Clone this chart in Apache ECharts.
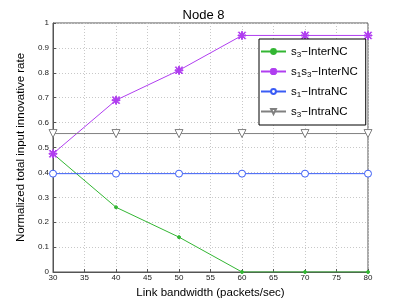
<!DOCTYPE html>
<html><head><meta charset="utf-8">
<script src="https://cdn.jsdelivr.net/npm/echarts@6/dist/echarts.min.js"></script>
<style>html,body{margin:0;padding:0;background:#fff}#c{width:407px;height:306px}</style>
</head><body><div id="c"></div>
<script>
const categories = [30, 40, 50, 60, 70, 80];
const s3Inter = [0.475, 0.26, 0.14, 0, 0, 0];
const s1s3Inter = [0.475, 0.69, 0.81, 0.95, 0.95, 0.95];
const s1Intra = [0.395, 0.395, 0.395, 0.395, 0.395, 0.395];
const s3Intra = [0.556, 0.556, 0.556, 0.556, 0.556, 0.556];
const xTicks = [30, 35, 40, 45, 50, 55, 60, 65, 70, 75, 80];
const yTicks = [0, 0.1, 0.2, 0.3, 0.4, 0.5, 0.6, 0.7, 0.8, 0.9, 1];
const names = ['s3-InterNC', 's1s3-InterNC', 's1-IntraNC', 's3-IntraNC'];
const legendText = {
  's3-InterNC': '{n|s}{s|3}{n|\u2212InterNC}',
  's1s3-InterNC': '{n|s}{s|1}{n|s}{s|3}{n|\u2212InterNC}',
  's1-IntraNC': '{n|s}{s|1}{n|\u2212IntraNC}',
  's3-IntraNC': '{n|s}{s|3}{n|\u2212IntraNC}'
};
const asterisk = 'path://M0,4.4L10,4.4L10,5.6L0,5.6Z M4.4,0L5.6,0L5.6,10L4.4,10Z M1.2,0.4L9.6,8.8L8.8,9.6L0.4,1.2Z M8.8,0.4L9.6,1.2L1.2,9.6L0.4,8.8Z';
const font = 'Liberation Sans, Arial, Helvetica, sans-serif';
const chart = echarts.init(document.getElementById('c'));
function mk(name, data, color, symbol, size, fill) {
  return {
    name, type: 'line', data: categories.map((x, i) => [x, data[i]]),
    symbol, symbolSize: size, showSymbol: true,
    lineStyle: {color, width: 1},
    itemStyle: {color: fill ? color : '#fff', borderColor: color, borderWidth: 1},
    emphasis: {disabled: true}, animation: false, z: 3
  };
}
chart.setOption({
  animation: false,
  title: {text: 'Node 8', left: 'center', top: 4, textStyle: {fontFamily: font, fontSize: 13, fontWeight: 'normal', color: '#000'}},
  grid: {left: 53, right: 39, top: 23, bottom: 34, show: true, borderColor: '#555', borderWidth: 1},
  legend: {
    orient: 'vertical', left: 259, top: 39, width: 106,
    backgroundColor: '#fff', borderColor: '#000', borderWidth: 1,
    padding: [5, 8, 6, 1], itemGap: 5, itemWidth: 25, itemHeight: 6,
    data: names,
    formatter: n => legendText[n],
    textStyle: {
      fontFamily: font, color: '#000',
      rich: {
        n: {fontFamily: font, fontSize: 11.5, color: '#000', lineHeight: 16, verticalAlign: 'middle'},
        s: {fontFamily: font, fontSize: 8, color: '#000', lineHeight: 16, padding: [7, 0, 0, 0], verticalAlign: 'middle'}
      }
    }
  },
  xAxis: {
    type: 'value', min: 30, max: 80, interval: 5,
    name: 'Link bandwidth (packets/sec)', nameLocation: 'middle', nameGap: 11,
    nameTextStyle: {fontFamily: font, fontSize: 11.5, color: '#000'},
    axisLine: {lineStyle: {color: '#555'}},
    axisTick: {inside: true, length: 3, lineStyle: {color: '#555'}},
    axisLabel: {fontFamily: font, fontSize: 8, color: '#222', margin: 2},
    splitLine: {show: true, lineStyle: {color: '#c8c8c8', type: [1, 2]}}
  },
  yAxis: {
    type: 'value', min: 0, max: 1, interval: 0.1,
    name: 'Normalized total input innovative rate', nameLocation: 'middle', nameGap: 15,
    nameTextStyle: {fontFamily: font, fontSize: 11.5, color: '#000'},
    axisLine: {show: true, lineStyle: {color: '#555'}},
    axisTick: {show: true, inside: true, length: 3, lineStyle: {color: '#555'}},
    axisLabel: {fontFamily: font, fontSize: 8, color: '#222', margin: 4, formatter: v => String(Math.round(v * 10) / 10)},
    splitLine: {show: true, lineStyle: {color: '#c8c8c8', type: [1, 2]}}
  },
  series: [
    mk('s3-InterNC', s3Inter, '#33b633', 'circle', 3, true),
    mk('s1s3-InterNC', s1s3Inter, '#b03ef0', asterisk, 8, true),
    mk('s1-IntraNC', s1Intra, '#3a5cf5', 'circle', 7, false),
    mk('s3-IntraNC', s3Intra, '#808080', 'path://M0,0L10,0L5,9Z', 8, false)
  ]
});
</script></body></html>
